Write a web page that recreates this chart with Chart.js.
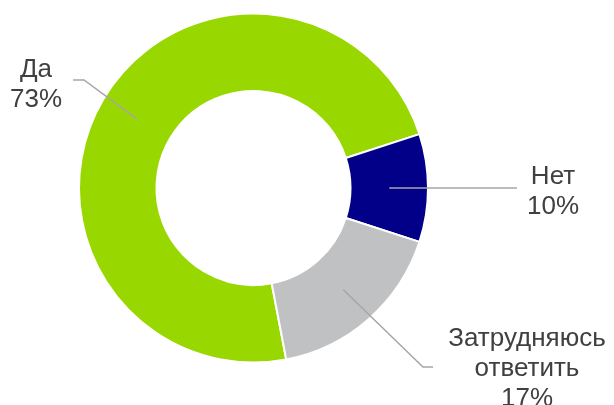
<!DOCTYPE html>
<html>
<head>
<meta charset="utf-8">
<script src="https://cdn.jsdelivr.net/npm/chart.js@4/dist/chart.umd.min.js"></script>
<style>
  html, body { margin: 0; padding: 0; background: #fff; }
  #wrap { width: 614px; height: 405px; }
</style>
</head>
<body>
<div id="wrap"><canvas id="myChart" width="614" height="405"></canvas></div>
<script>
// data
const categories = ['Да', 'Нет', 'Затрудняюсь ответить'];
const labelLines = [['Да'], ['Нет'], ['Затрудняюсь', 'ответить']];
const shares = [73, 10, 17];
const sliceColors = ['#98d800', '#020088', '#c0c1c3'];

// callout layout: elbow + end of the leader line, text centre x and first baseline
const callouts = [
    { elbow: [84, 80], end: [73, 80], textX: 36, textY: 77 },
    { elbow: [517, 188], end: [517, 188], textX: 553, textY: 184 },
    { elbow: [423, 367], end: [433, 367], textX: 527, textY: 346 }
];

const calloutPlugin = {
    id: 'callouts',
    afterDatasetsDraw(chart) {
        const ctx = chart.ctx;
        const arcs = chart.getDatasetMeta(0).data;
        ctx.save();
        arcs.forEach((arc, i) => {
            const p = arc.getProps(['x', 'y', 'startAngle', 'endAngle', 'innerRadius', 'outerRadius'], true);
            const mid = (p.startAngle + p.endAngle) / 2;
            const r = (p.innerRadius + p.outerRadius) / 2;
            const sx = p.x + Math.cos(mid) * r;
            const sy = p.y + Math.sin(mid) * r;
            const c = callouts[i];

            ctx.strokeStyle = '#a6a6a6';
            ctx.lineWidth = 1.5;
            ctx.beginPath();
            ctx.moveTo(sx, sy);
            ctx.lineTo(c.elbow[0], c.elbow[1]);
            ctx.lineTo(c.end[0], c.end[1]);
            ctx.stroke();

            ctx.fillStyle = '#404040';
            ctx.font = '26px "Liberation Sans", Arial, sans-serif';
            ctx.textAlign = 'center';
            ctx.textBaseline = 'alphabetic';
            const lines = labelLines[i].concat([shares[i] + '%']);
            lines.forEach((t, k) => ctx.fillText(t, c.textX, c.textY + k * 30));
        });
        ctx.restore();
    }
};

new Chart(document.getElementById('myChart').getContext('2d'), {
    type: 'doughnut',
    data: {
        labels: categories,
        datasets: [{
            data: shares,
            backgroundColor: sliceColors,
            borderColor: '#ffffff',
            borderWidth: 2
        }]
    },
    options: {
        responsive: false,
        animation: false,
        rotation: 169.2,
        radius: 174.5,
        cutout: '55.6%',
        layout: { padding: { left: 0, right: 107, top: 0, bottom: 29 } },
        plugins: {
            legend: { display: false },
            tooltip: { enabled: false }
        }
    },
    plugins: [calloutPlugin]
});
</script>
</body>
</html>
